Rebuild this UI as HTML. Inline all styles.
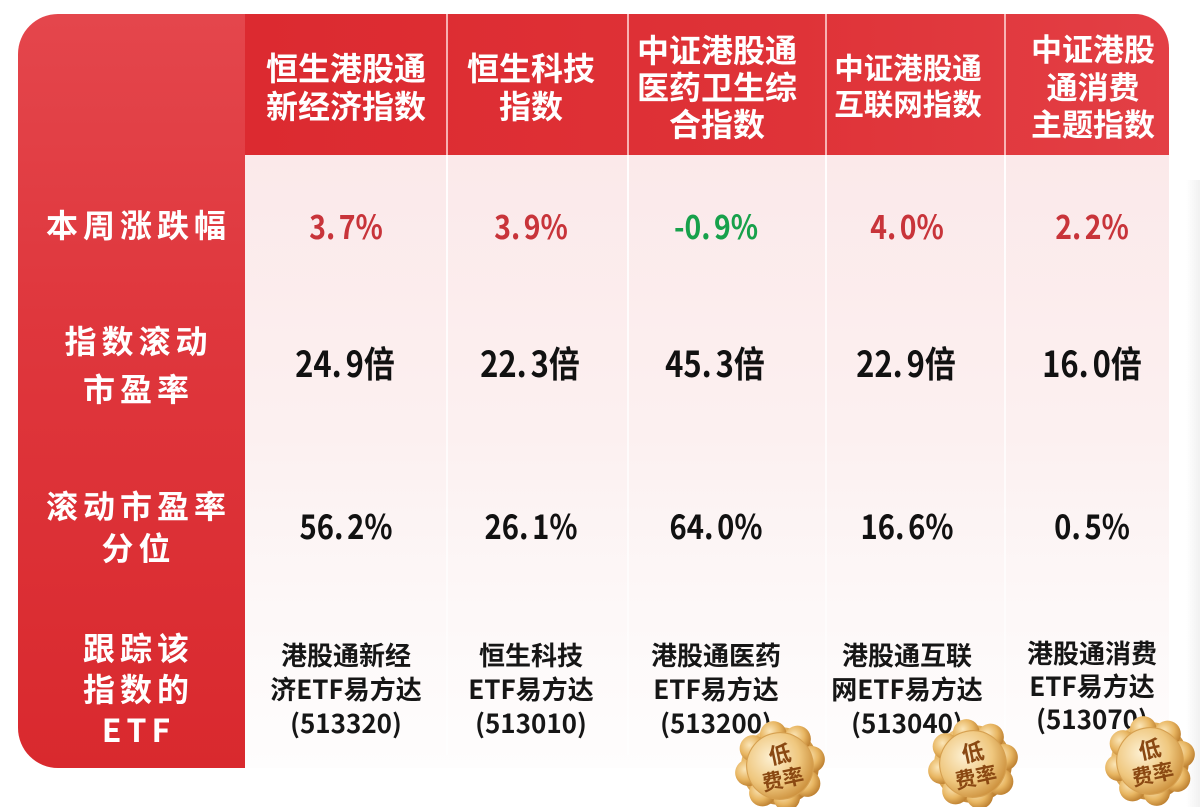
<!DOCTYPE html>
<html><head><meta charset="utf-8">
<style>
*{margin:0;padding:0;box-sizing:border-box}
html,body{width:1200px;height:807px;overflow:hidden;background:#fff}
body{position:relative;font-family:"Liberation Sans","Noto Sans CJK SC",sans-serif}
.abs{position:absolute}
.left{left:18px;top:14px;width:227px;height:754px;border-radius:40px 0 0 40px;background:linear-gradient(180deg,#e4464c 0%,#df373d 40%,#d9292e 100%)}
.head{left:245px;top:14px;width:924px;height:141px;border-top-right-radius:34px;background:linear-gradient(90deg,#dc2a30 0%,#df3338 60%,#e33f45 100%)}
.bodybg{left:245px;top:155px;width:924px;height:613px;background:linear-gradient(180deg,#fbe9ea 0%,#fcf0f0 45%,#fdf8f8 75%,#fefdfd 100%)}
.hsep{top:14px;width:2px;height:141px;background:rgba(255,220,220,0.75)}
.bsep{top:155px;width:2px;height:600px;background:linear-gradient(180deg,rgba(255,255,255,0.95),rgba(255,255,255,0.5))}
.ht{color:#fff;font-family:"Noto Sans CJK SC",sans-serif;font-weight:700;text-align:center;white-space:nowrap}
.lb{color:#fff;font-family:"Noto Sans CJK SC",sans-serif;font-weight:700;font-size:32px;letter-spacing:5px;padding-left:5px;text-align:center;white-space:nowrap;left:36px;width:200px}
.v{font-family:"Noto Sans CJK SC",sans-serif;font-weight:700;text-align:center;white-space:nowrap;width:200px;transform:scaleX(0.86);transform-origin:50% 50%}
.r1{font-size:33px;color:#c8343a;line-height:44px;top:203px}
.g{color:#17a14b}
.r2{font-size:36px;color:#111;line-height:44px;top:340px}
.r3{font-size:34px;color:#111;line-height:44px;top:503px}
.d{display:inline-block;width:0.45em;text-align:left}
.etf{font-family:"Noto Sans CJK SC",sans-serif;font-weight:700;font-size:26px;color:#161616;line-height:34px;top:638px;text-align:center;white-space:nowrap;width:200px}
.medal{position:absolute;width:100px;height:100px}
</style></head>
<body>
<div class="abs bodybg"></div>
<div class="abs left"></div>
<div class="abs head"></div>
<div class="abs" style="left:1169px;top:180px;width:31px;height:627px;background:linear-gradient(90deg,#fff 0%,#fff 55%,#f1f1f1 100%)"></div>

<div class="abs hsep" style="left:446px"></div>
<div class="abs hsep" style="left:627px"></div>
<div class="abs hsep" style="left:825px"></div>
<div class="abs hsep" style="left:1004px"></div>
<div class="abs bsep" style="left:446px"></div>
<div class="abs bsep" style="left:627px"></div>
<div class="abs bsep" style="left:825px"></div>
<div class="abs bsep" style="left:1004px"></div>

<!-- headers -->
<div class="abs ht" style="left:246px;width:200px;top:48px;font-size:32px;line-height:38px">恒生港股通<br>新经济指数</div>
<div class="abs ht" style="left:431px;width:200px;top:48px;font-size:32px;line-height:38px">恒生科技<br>指数</div>
<div class="abs ht" style="left:617px;width:200px;top:31px;font-size:32px;line-height:37px">中证港股通<br>医药卫生综<br>合指数</div>
<div class="abs ht" style="left:808px;width:200px;top:49px;font-size:29.5px;line-height:36px">中证港股通<br>互联网指数</div>
<div class="abs ht" style="left:993px;width:200px;top:29px;font-size:31px;line-height:37.5px">中证港股<br>通消费<br>主题指数</div>

<!-- left labels -->
<div class="abs lb" style="top:202px;line-height:44px">本周涨跌幅</div>
<div class="abs lb" style="top:316px;line-height:48px">指数滚动<br>市盈率</div>
<div class="abs lb" style="top:484px;line-height:42px">滚动市盈率<br>分位</div>
<div class="abs lb" style="top:627px;line-height:41px">跟踪该<br>指数的<br>ETF</div>

<!-- row 1 -->
<div class="abs v r1" style="left:246px">3<span class="d">.</span>7%</div>
<div class="abs v r1" style="left:431px">3<span class="d">.</span>9%</div>
<div class="abs v r1 g" style="left:616px">-0<span class="d">.</span>9%</div>
<div class="abs v r1" style="left:807px">4<span class="d">.</span>0%</div>
<div class="abs v r1" style="left:992px">2<span class="d">.</span>2%</div>

<!-- row 2 -->
<div class="abs v r2" style="left:245px">24<span class="d">.</span>9倍</div>
<div class="abs v r2" style="left:430px">22<span class="d">.</span>3倍</div>
<div class="abs v r2" style="left:615px">45<span class="d">.</span>3倍</div>
<div class="abs v r2" style="left:806px">22<span class="d">.</span>9倍</div>
<div class="abs v r2" style="left:992px">16<span class="d">.</span>0倍</div>

<!-- row 3 -->
<div class="abs v r3" style="left:246px">56<span class="d">.</span>2%</div>
<div class="abs v r3" style="left:431px">26<span class="d">.</span>1%</div>
<div class="abs v r3" style="left:616px">64<span class="d">.</span>0%</div>
<div class="abs v r3" style="left:807px">16<span class="d">.</span>6%</div>
<div class="abs v r3" style="left:992px">0<span class="d">.</span>5%</div>

<!-- ETF row -->
<div class="abs etf" style="left:246px">港股通新经<br>济ETF易方达<br>(513320)</div>
<div class="abs etf" style="left:431px">恒生科技<br>ETF易方达<br>(513010)</div>
<div class="abs etf" style="left:616px">港股通医药<br>ETF易方达<br>(513200)</div>
<div class="abs etf" style="left:807px">港股通互联<br>网ETF易方达<br>(513040)</div>
<div class="abs etf" style="left:992px;top:636px;line-height:33px">港股通消费<br>ETF易方达<br>(513070)</div>

<!-- medals -->
<svg width="0" height="0" style="position:absolute">
<defs>
<radialGradient id="gOut" cx="40%" cy="35%" r="70%">
<stop offset="0" stop-color="#fbe6b8"/><stop offset="0.55" stop-color="#e8b662"/><stop offset="1" stop-color="#b8792a"/>
</radialGradient>
<radialGradient id="gIn" cx="40%" cy="35%" r="70%">
<stop offset="0" stop-color="#fdf0d2"/><stop offset="0.6" stop-color="#efc77e"/><stop offset="1" stop-color="#c98b36"/>
</radialGradient>
</defs>
</svg>

<svg class="medal" style="left:730px;top:716px" viewBox="0 0 90 90">
<g transform="rotate(-12 45 45)">
<g fill="url(#gOut)">
<circle cx="45" cy="45" r="35"/>
<circle cx="45" cy="16" r="12"/><circle cx="65.5" cy="24.5" r="12"/><circle cx="74" cy="45" r="12"/><circle cx="65.5" cy="65.5" r="12"/>
<circle cx="45" cy="74" r="12"/><circle cx="24.5" cy="65.5" r="12"/><circle cx="16" cy="45" r="12"/><circle cx="24.5" cy="24.5" r="12"/>
</g>
<circle cx="45" cy="45" r="30" fill="url(#gIn)" stroke="#d6a050" stroke-width="1"/>
<text x="47" y="42" font-family="Noto Sans CJK SC,sans-serif" font-weight="700" font-size="20" fill="#8a4812" text-anchor="middle">低</text>
<text x="45" y="64" font-family="Noto Sans CJK SC,sans-serif" font-weight="700" font-size="19" fill="#8a4812" text-anchor="middle">费率</text>
</g>
</svg>

<svg class="medal" style="left:923px;top:714px" viewBox="0 0 90 90">
<g transform="rotate(-12 45 45)">
<g fill="url(#gOut)">
<circle cx="45" cy="45" r="35"/>
<circle cx="45" cy="16" r="12"/><circle cx="65.5" cy="24.5" r="12"/><circle cx="74" cy="45" r="12"/><circle cx="65.5" cy="65.5" r="12"/>
<circle cx="45" cy="74" r="12"/><circle cx="24.5" cy="65.5" r="12"/><circle cx="16" cy="45" r="12"/><circle cx="24.5" cy="24.5" r="12"/>
</g>
<circle cx="45" cy="45" r="30" fill="url(#gIn)" stroke="#d6a050" stroke-width="1"/>
<text x="47" y="42" font-family="Noto Sans CJK SC,sans-serif" font-weight="700" font-size="20" fill="#8a4812" text-anchor="middle">低</text>
<text x="45" y="64" font-family="Noto Sans CJK SC,sans-serif" font-weight="700" font-size="19" fill="#8a4812" text-anchor="middle">费率</text>
</g>
</svg>

<svg class="medal" style="left:1100px;top:711px" viewBox="0 0 90 90">
<g transform="rotate(-12 45 45)">
<g fill="url(#gOut)">
<circle cx="45" cy="45" r="35"/>
<circle cx="45" cy="16" r="12"/><circle cx="65.5" cy="24.5" r="12"/><circle cx="74" cy="45" r="12"/><circle cx="65.5" cy="65.5" r="12"/>
<circle cx="45" cy="74" r="12"/><circle cx="24.5" cy="65.5" r="12"/><circle cx="16" cy="45" r="12"/><circle cx="24.5" cy="24.5" r="12"/>
</g>
<circle cx="45" cy="45" r="30" fill="url(#gIn)" stroke="#d6a050" stroke-width="1"/>
<text x="47" y="42" font-family="Noto Sans CJK SC,sans-serif" font-weight="700" font-size="20" fill="#8a4812" text-anchor="middle">低</text>
<text x="45" y="64" font-family="Noto Sans CJK SC,sans-serif" font-weight="700" font-size="19" fill="#8a4812" text-anchor="middle">费率</text>
</g>
</svg>

</body></html>
